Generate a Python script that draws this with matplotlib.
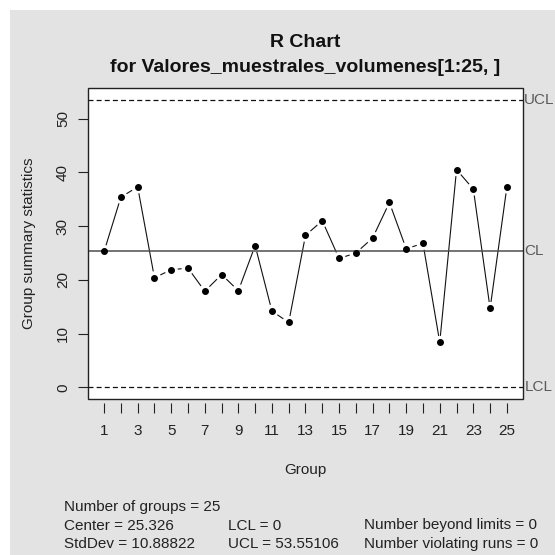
#!/usr/bin/env python3
import numpy as np
import matplotlib
matplotlib.use('Agg')
import matplotlib.pyplot as plt
from matplotlib.patches import Rectangle

plt.rcParams['font.family'] = ['Liberation Sans', 'DejaVu Sans']

groups = np.arange(1, 26)
ranges = [25.3, 35.4, 37.3, 20.4, 21.9, 22.2, 17.9, 21.0, 18.0, 26.4,
          14.2, 12.1, 28.3, 31.0, 24.0, 25.0, 27.8, 34.4, 25.8, 26.8,
          8.4, 40.5, 36.9, 14.7, 37.3]
center = 25.326
lcl = 0
ucl = 53.55106
stddev = 10.88822

W = H = 555
fig = plt.figure(figsize=(W / 100, H / 100), dpi=100, facecolor='white')
# grey device area, white strip on top and left as in the screenshot
fig.patches.append(Rectangle((10 / W, 0), 1, 1 - 10 / H, transform=fig.transFigure,
                             facecolor='#e3e3e3', edgecolor='none', zorder=-10))

ax = fig.add_axes([88 / W, 1 - 399 / H, 435 / W, 311 / H])
ax.set_facecolor('white')
ax.set_xlim(0.04, 25.96)
ax.set_ylim(-2.14, 55.69)

# type="b": line pieces stop short of each point
gap = 6.5
pts = ax.transData.transform(np.column_stack([groups, ranges]))
inv = ax.transData.inverted()
for p0, p1 in zip(pts[:-1], pts[1:]):
    d = p1 - p0
    L = np.hypot(*d)
    if L <= 2 * gap:
        continue
    u = d / L
    a = inv.transform(p0 + u * gap)
    b = inv.transform(p1 - u * gap)
    ax.plot([a[0], b[0]], [a[1], b[1]], color='#111111', lw=0.8, solid_capstyle='butt')
ax.plot(groups, ranges, 'o', color='black', ms=4.0, zorder=5)

ax.axhline(center, color='#4d4d4d', lw=1.1)
ax.axhline(ucl, color='#111111', lw=0.9, ls=(0, (4, 2.5)))
ax.axhline(lcl, color='#111111', lw=0.9, ls=(0, (4, 2.5)))

for val, lab in [(ucl, 'UCL'), (center, 'CL'), (lcl, 'LCL')]:
    ax.text(1.003, val, lab, transform=ax.get_yaxis_transform(), color='#5a5a5a',
            fontsize=11, va='center', ha='left', clip_on=False)

ax.set_xticks(groups)
ax.set_xticklabels([str(g) if g % 2 == 1 else '' for g in groups])
ax.set_yticks([0, 10, 20, 30, 40, 50])
ax.set_yticklabels(['0', '10', '20', '30', '40', '50'], rotation=90, va='center')
ax.tick_params(axis='x', direction='out', length=7, width=0.8, pad=8, labelsize=11,
               color='#222222', labelcolor='#222222')
ax.tick_params(axis='y', direction='out', length=7, width=0.8, pad=6, labelsize=11,
               color='#222222', labelcolor='#222222')
ax.spines['bottom'].set_position(('outward', 3))
for s in ax.spines.values():
    s.set_color('none')
ax.add_patch(Rectangle((0, 0), 1, 1, transform=ax.transAxes, fill=False,
                       edgecolor='#222222', lw=1.0, clip_on=False, zorder=10))

ax.set_ylabel('Group summary statistics', fontsize=11, labelpad=14, color='#222222')
fig.text(305.5 / W, 1 - 470 / H, 'Group', ha='center', va='center', fontsize=11,
         color='#222222')

fig.text(305.5 / W, 1 - 42.5 / H, 'R Chart', ha='center', va='center',
         fontsize=14, fontweight='bold', color='#111111')
fig.text(305.5 / W, 1 - 67 / H, 'for Valores_muestrales_volumenes[1:25, ]', ha='center',
         va='center', fontsize=14, fontweight='bold', color='#111111')

fs = 11
col = [10 + 0.10 * 545, 10 + 0.40 * 545, 10 + 0.65 * 545]
rows = [507, 525.5, 544]
stats = [
    (0, 0, 'Number of groups = %d' % len(groups)),
    (0, 1, 'Center = %s' % center),
    (0, 2, 'StdDev = %s' % stddev),
    (1, 1, 'LCL = %d' % lcl),
    (1, 2, 'UCL = %s' % ucl),
    (2, 1, 'Number beyond limits = 0'),
    (2, 2, 'Number violating runs = 0'),
]
for c, r, s in stats:
    fig.text(col[c] / W, 1 - rows[r] / H, s, fontsize=fs, va='center', ha='left',
             color='#222222')

fig.savefig('out.png', dpi=100, facecolor=fig.get_facecolor())
